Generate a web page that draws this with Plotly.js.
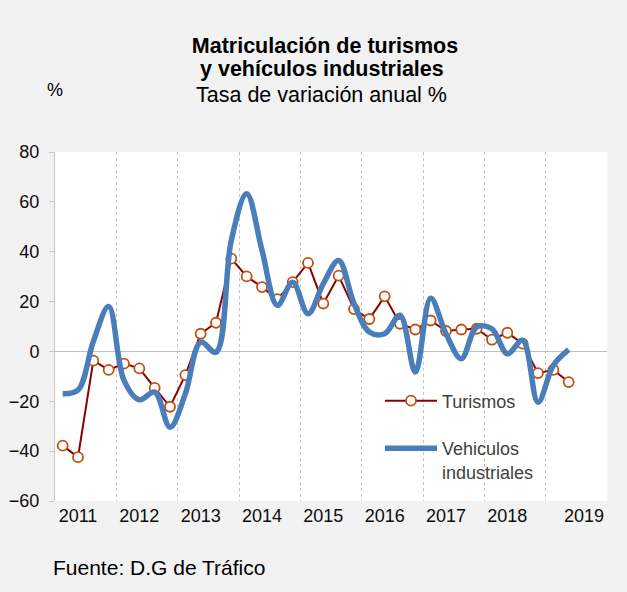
<!DOCTYPE html>
<html>
<head>
<meta charset="utf-8">
<script src="https://cdn.plot.ly/plotly-3.0.1.min.js"></script>
<style>html,body{margin:0;padding:0;background:#f2f2f2;}#chart{width:627px;height:592px;}</style>
</head>
<body>
<div id="chart"></div>
<script>
// Quarterly categories (2011 T1 .. 2019 T4)
var years = ['2011','2012','2013','2014','2015','2016','2017','2018','2019'];
var quarters = [];
years.forEach(function(y){ ['T1','T2','T3','T4'].forEach(function(q){ quarters.push(y + q); }); });

// Tick labels (year text and the quarter where each is printed)
var yearLabels = ['2011','2012','2013','2014','2015','2016','2017','2018','2019'];
var yearLabelQuarters = ['2011T2','2012T2','2013T2','2014T2','2015T2','2016T2','2017T2','2018T2','2019T3'];

// Series (tasa de variación anual %)
var turismos = [-37.8, -42.4, -3.7, -7.4, -4.9, -6.8, -14.6, -22.2, -9.5, 7.1, 11.5, 37.2,
  30.1, 25.8, 21.0, 27.8, 35.5, 19.2, 30.4, 17.0, 13.0, 22.1, 11.1, 8.8,
  12.4, 8.2, 8.8, 9.1, 4.7, 7.5, 3.1, -8.7, -7.4, -12.3];
var vehiculos = [-17.0, -15.5, 4.0, 18.0, -11.6, -19.4, -16.3, -30.4, -17.0, 3.7, -0.3, 44.6,
  63.3, 40.6, 18.5, 27.8, 15.1, 27.2, 36.5, 19.2, 7.8, 7.1, 14.5, -8.3,
  21.3, 7.1, -2.9, 9.8, 9.0, -0.9, 4.4, -20.4, -5.6, 0.7];

var idx = function(arr){ return arr.map(function(_, i){ return i; }); };
var tickPos = yearLabelQuarters.map(function(q){ return quarters.indexOf(q); });
var gridPos = [];
quarters.forEach(function(q, i){ if (q.slice(-2) === 'T4' && i > 0) gridPos.push(i + 0.5); });

var font = 'Arial, "Liberation Sans", sans-serif';

var traces = [
  {
    x: idx(turismos), y: turismos, name: 'Turismos', type: 'scatter', mode: 'lines+markers',
    line: {color: '#8B0000', width: 2},
    marker: {symbol: 'circle', size: 10, color: '#ffffff', line: {color: '#C0500F', width: 1.8}},
    legend: 'legend'
  },
  {
    x: idx(vehiculos), y: vehiculos, name: 'Vehiculos<br>industriales', type: 'scatter', mode: 'lines',
    line: {color: '#4A7EBB', width: 5.5, shape: 'spline', smoothing: 1},
    legend: 'legend2'
  }
];

var py = function(px){ return (501 - px) / 349; };
var px = function(p){ return (p - 55) / 552; };

var layout = {
  width: 627, height: 592,
  paper_bgcolor: '#f2f2f2', plot_bgcolor: '#ffffff',
  margin: {l: 55, r: 20, t: 152, b: 91},
  font: {family: font, color: '#000000'},
  title: {
    text: '<b>Matriculación de turismos</b>',
    font: {family: font, size: 21.5, color: '#000000'},
    x: 325 / 627, xref: 'container', xanchor: 'center',
    y: 1 - 45/592, yref: 'container', yanchor: 'middle'
  },
  xaxis: {
    range: [-0.5, quarters.length - 0.5],
    tickmode: 'array', tickvals: tickPos, ticktext: yearLabels,
    showgrid: false, zeroline: false, showline: false, ticks: '',
    ticklabelstandoff: 2,
    tickfont: {family: font, size: 18, color: '#0d0d0d'},
    minor: {tickmode: 'array', tickvals: gridPos, showgrid: true, gridcolor: '#c4c4c4', griddash: 'dot', gridwidth: 1, ticks: ''},
    fixedrange: true
  },
  yaxis: {
    range: [-60, 80], dtick: 20, tick0: 0,
    showgrid: false, zeroline: true, zerolinecolor: '#bfbfbf', zerolinewidth: 1,
    showline: true, linecolor: '#c8c8c8', linewidth: 1,
    ticks: 'outside', ticklen: 5, tickcolor: '#c8c8c8',
    ticklabelstandoff: 6,
    tickfont: {family: font, size: 18, color: '#0d0d0d'},
    fixedrange: true
  },
  legend: {
    x: px(380), xanchor: 'left', y: py(401), yanchor: 'middle',
    bgcolor: 'rgba(0,0,0,0)', font: {family: font, size: 18, color: '#404040'},
    itemwidth: 52
  },
  legend2: {
    x: px(380), xanchor: 'left', y: py(460), yanchor: 'middle',
    bgcolor: 'rgba(0,0,0,0)', font: {family: font, size: 18, color: '#404040'},
    valign: 'top', itemwidth: 52
  },
  annotations: [
    {text: '<b>y vehículos industriales</b>', xref: 'paper', yref: 'paper', x: px(322), y: py(69),
     xanchor: 'center', yanchor: 'middle', showarrow: false, font: {family: font, size: 21.5, color: '#000000'}},
    {text: 'Tasa de variación anual %', xref: 'paper', yref: 'paper', x: px(321), y: py(95),
     xanchor: 'center', yanchor: 'middle', showarrow: false, font: {family: font, size: 21.5, color: '#000000'}},
    {text: '%', xref: 'paper', yref: 'paper', x: 0, y: py(90),
     xanchor: 'center', yanchor: 'middle', showarrow: false, font: {family: font, size: 18, color: '#000000'}},
    {text: 'Fuente: D.G de Tráfico', xref: 'paper', yref: 'paper', x: px(51), y: py(567),
     xanchor: 'left', yanchor: 'middle', showarrow: false, font: {family: font, size: 21, color: '#000000'}}
  ],
  showlegend: true
};

Plotly.newPlot('chart', traces, layout, {displayModeBar: false, staticPlot: true});
</script>
</body>
</html>
